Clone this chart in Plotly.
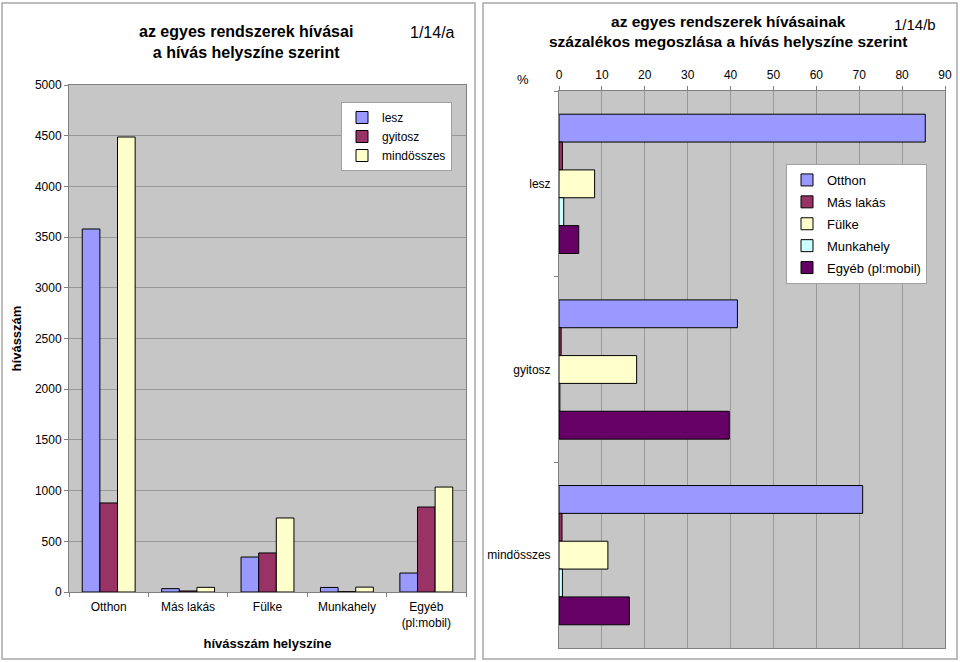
import plotly.graph_objects as go

# ---- data ----
places = ["Otthon", "Más lakás", "Fülke", "Munkahely", "Egyéb<br>(pl:mobil)"]
place_names = ["Otthon", "Más lakás", "Fülke", "Munkahely", "Egyéb (pl:mobil)"]
systems = ["lesz", "gyitosz", "mindösszes"]

lesz_calls = [3580, 33, 345, 45, 187]
gyitosz_calls = [878, 10, 385, 3, 838]
total_calls = [4487, 46, 730, 48, 1035]

# percentage by place, per system (lesz, gyitosz, mindösszes)
pct_otthon = [85.4, 41.6, 70.8]
pct_mas = [0.8, 0.5, 0.7]
pct_fulke = [8.3, 18.1, 11.4]
pct_munka = [1.1, 0.2, 0.8]
pct_egyeb = [4.6, 39.7, 16.4]

y_ticks_left = [0, 500, 1000, 1500, 2000, 2500, 3000, 3500, 4000, 4500, 5000]
x_ticks_right = [0, 10, 20, 30, 40, 50, 60, 70, 80, 90]

sys_colors = ["#9999FF", "#993366", "#FFFFCC"]
place_colors = ["#9999FF", "#993366", "#FFFFCC", "#CCFFFF", "#660066"]

FONT = "Liberation Sans, Arial, sans-serif"
NARROW = "Liberation Sans Narrow, Arial Narrow, Liberation Sans, sans-serif"
W, H = 960, 662

def dx(px):
    return px / W

def dy(px):
    return 1 - px / H

fig = go.Figure()

BW = 0.222  # bar width in category units for the column chart
for i, (name, vals, col) in enumerate(zip(systems, [lesz_calls, gyitosz_calls, total_calls], sys_colors)):
    fig.add_trace(go.Bar(
        x=places, y=vals, name=name, xaxis="x", yaxis="y",
        width=BW, offset=-1.5 * BW + i * BW,
        marker=dict(color=col, line=dict(color="#000000", width=1)),
        legend="legend",
    ))

for name, vals, col in zip(place_names, [pct_otthon, pct_mas, pct_fulke, pct_munka, pct_egyeb], place_colors):
    fig.add_trace(go.Bar(
        y=systems, x=vals, name=name, orientation="h", xaxis="x2", yaxis="y2",
        marker=dict(color=col, line=dict(color="#000000", width=1)),
        legend="legend2", legendgroup=name,
    ))

grid = "#999999"
plotbg = "#c6c6c6"

fig.update_layout(
    width=W, height=H,
    margin=dict(l=0, r=0, t=0, b=0, autoexpand=False),
    paper_bgcolor="white",
    plot_bgcolor=plotbg,
    font=dict(family=FONT, size=12, color="#000000"),
    barmode="group",
    bargap=0.25,
    bargroupgap=0,
    showlegend=True,
    xaxis=dict(
        domain=[dx(69), dx(466)], anchor="y", automargin=False,
        tickson="boundaries", ticks="outside", ticklen=4, tickcolor="#808080",
        showline=True, linecolor="#808080", mirror=True,
        tickfont=dict(size=12), ticklabelstandoff=4,
        title=dict(text="<b>hívásszám helyszíne</b>", font=dict(size=13), standoff=9),
    ),
    yaxis=dict(
        domain=[dy(592), dy(85)], anchor="x", automargin=False,
        range=[0, 5000], tickvals=y_ticks_left, ticktext=[str(v) for v in y_ticks_left],
        showgrid=True, gridcolor=grid, gridwidth=1,
        ticks="outside", ticklen=4, tickcolor="#808080",
        showline=True, linecolor="#808080", mirror=True,
        tickfont=dict(size=12), zeroline=False,
        title=dict(text="<b>hívásszám</b>", font=dict(size=13), standoff=10),
    ),
    xaxis2=dict(
        domain=[dx(559), dx(945)], anchor="y2", side="top", automargin=False,
        range=[0, 90], tickvals=x_ticks_right, ticktext=[str(v) for v in x_ticks_right],
        showgrid=True, gridcolor=grid, gridwidth=1,
        ticks="outside", ticklen=4, tickcolor="#808080",
        showline=True, linecolor="#808080", mirror=True, zeroline=False,
        tickfont=dict(size=12), ticklabelstandoff=2,
    ),
    yaxis2=dict(
        domain=[dy(648), dy(91)], anchor="x2", automargin=False,
        autorange="reversed",
        tickson="boundaries", ticks="outside", ticklen=4, tickcolor="#808080",
        showline=True, linecolor="#808080", mirror=True,
        tickfont=dict(size=12), ticklabelstandoff=5,
    ),
    legend=dict(
        x=dx(452), y=dy(102), xanchor="right", yanchor="top",
        bgcolor="white", bordercolor="#a0a0a0", borderwidth=1,
        font=dict(size=12), tracegroupgap=0, itemwidth=30,
    ),
    legend2=dict(
        x=dx(927), y=dy(164), xanchor="right", yanchor="top",
        bgcolor="white", bordercolor="#a0a0a0", borderwidth=1,
        font=dict(size=13), tracegroupgap=2, itemwidth=30,
    ),
)

fig.update_layout(
    annotations=[
        dict(text="<b>az egyes rendszerek hívásai<br>a hívás helyszíne szerint</b>",
             x=dx(246), y=dy(42), xref="paper", yref="paper", showarrow=False,
             xanchor="center", yanchor="middle",
             font=dict(size=16), align="center"),
        dict(text="1/14/a", x=dx(432), y=dy(32), xref="paper", yref="paper",
             xanchor="center", yanchor="middle",
             showarrow=False, font=dict(size=16, family=NARROW)),
        dict(text="<b>az egyes rendszerek hívásainak<br>százalékos megoszlása a hívás helyszíne szerint</b>",
             x=dx(728), y=dy(31), xref="paper", yref="paper", showarrow=False,
             xanchor="center", yanchor="middle",
             font=dict(size=15.5), align="center"),
        dict(text="1/14/b", x=dx(915), y=dy(24), xref="paper", yref="paper",
             xanchor="center", yanchor="middle",
             showarrow=False, font=dict(size=15, family=NARROW)),
        dict(text="%", x=dx(523), y=dy(79), xref="paper", yref="paper",
             xanchor="center", yanchor="middle",
             showarrow=False, font=dict(size=13)),
    ],
    shapes=[
        dict(type="rect", xref="paper", yref="paper",
             x0=dx(2), x1=dx(475), y0=dy(659), y1=dy(3),
             line=dict(color="#a8a8a8", width=1.5)),
        dict(type="rect", xref="paper", yref="paper",
             x0=dx(483), x1=dx(957), y0=dy(659), y1=dy(3),
             line=dict(color="#a8a8a8", width=1.5)),
    ],
)

fig.write_html(
    "out.html",
    config={"displayModeBar": False},
    post_script="document.body.style.margin='0px';document.body.style.overflow='hidden';",
)
